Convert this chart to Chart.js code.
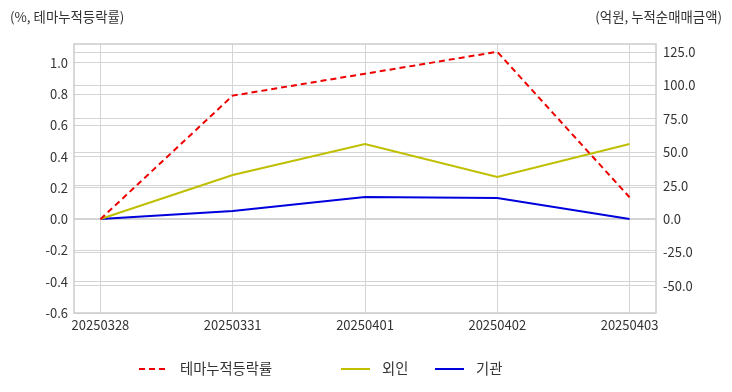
<!DOCTYPE html>
<html>
<head>
<meta charset="utf-8">
<script src="https://cdn.jsdelivr.net/npm/chart.js@4"></script>
<style>
  html, body { margin: 0; padding: 0; background: #fff; }
  #wrap { position: relative; width: 732px; height: 392px; }
  .unit { position: absolute; top: 6px; font: 13.4px "Noto Sans CJK KR", "Noto Sans", sans-serif; color: #333; }
</style>
</head>
<body>
<div id="wrap">
  <canvas id="grafico" width="732" height="392"></canvas>
  <div class="unit" style="left:10px">(%, 테마누적등락률)</div>
  <div class="unit" style="right:10px">(억원, 누적순매매금액)</div>
</div>
<script>
// dados
const categorias = ['20250328', '20250331', '20250401', '20250402', '20250403'];
const temaAcumulado = [0.0, 0.79, 0.93, 1.07, 0.14];   // %
const estrangeiro = [0, 32.9, 56.1, 31.4, 56.1];        // 억원
const institucional = [0, 6.0, 16.5, 15.7, 0];          // 억원
const ticksEsq = [-0.6, -0.4, -0.2, 0.0, 0.2, 0.4, 0.6, 0.8, 1.0];
const ticksDir = [-50, -25, 0, 25, 50, 75, 100, 125];

const fonte = { family: '"Noto Sans CJK KR", "Noto Sans", sans-serif', size: 13 };
const corGrade = '#d4d4d4';

const pontos = arr => arr.map((v, i) => ({ x: i, y: v }));

// moldura em volta da area do grafico
const moldura = {
    id: 'moldura',
    afterDraw(chart) {
        const a = chart.chartArea;
        const c = chart.ctx;
        c.save();
        c.strokeStyle = '#cccccc';
        c.lineWidth = 1.5;
        c.strokeRect(a.left, a.top, a.right - a.left, a.bottom - a.top);
        c.restore();
    }
};

// legenda desenhada na mao (espacamento igual ao original)
const legendaX = [139, 341, 435];
const legenda = {
    id: 'legenda',
    afterDraw(chart) {
        const c = chart.ctx;
        const y = 369;
        c.save();
        chart.data.datasets.forEach((ds, i) => {
            const x = legendaX[i];
            c.beginPath();
            c.strokeStyle = ds.borderColor;
            c.lineWidth = ds.borderWidth;
            c.setLineDash(ds.borderDash || []);
            c.moveTo(x, y);
            c.lineTo(x + 29, y);
            c.stroke();
            c.setLineDash([]);
            c.fillStyle = '#333';
            c.font = '14.3px "Noto Sans CJK KR", "Noto Sans", sans-serif';
            c.textBaseline = 'middle';
            c.fillText(ds.label, x + 41, y);
        });
        c.restore();
    }
};

const ctx = document.getElementById('grafico').getContext('2d');
new Chart(ctx, {
    type: 'line',
    data: {
        datasets: [{
            label: '테마누적등락률',
            data: pontos(temaAcumulado),
            borderColor: '#ee0000',
            backgroundColor: '#ee0000',
            borderWidth: 2,
            borderDash: [6, 4],
            yAxisID: 'y',
        }, {
            label: '외인',
            data: pontos(estrangeiro),
            borderColor: '#bfbf00',
            backgroundColor: '#bfbf00',
            borderWidth: 2,
            yAxisID: 'y1',
        }, {
            label: '기관',
            data: pontos(institucional),
            borderColor: '#0000dd',
            backgroundColor: '#0000dd',
            borderWidth: 2,
            yAxisID: 'y1',
        }]
    },
    options: {
        responsive: false,
        animation: false,
        elements: { point: { radius: 0 }, line: { tension: 0 } },
        layout: { padding: { top: 44, left: 0, right: 0, bottom: 42 } },
        plugins: {
            tooltip: { enabled: false },
            legend: { display: false }
        },
        scales: {
            x: {
                type: 'linear',
                min: -0.2,
                max: 4.2,
                afterBuildTicks: s => { s.ticks = categorias.map((_, i) => ({ value: i })); },
                afterFit: s => { s.height = 37; },
                grid: { color: corGrade, drawTicks: false },
                border: { display: false },
                ticks: {
                    padding: 4,
                    color: '#333',
                    font: fonte,
                    maxRotation: 0,
                    callback: v => categorias[v]
                }
            },
            y: {
                position: 'left',
                min: -0.6,
                max: 1.12,
                afterBuildTicks: s => { s.ticks = ticksEsq.map(v => ({ value: v })); },
                afterFit: s => { s.width = 74; },
                grid: { color: corGrade, drawTicks: false },
                border: { display: false },
                ticks: {
                    padding: 6,
                    color: '#333',
                    font: fonte,
                    callback: v => v.toFixed(1)
                }
            },
            y1: {
                position: 'right',
                min: -70.4,
                max: 131,
                afterBuildTicks: s => { s.ticks = ticksDir.map(v => ({ value: v })); },
                afterFit: s => { s.width = 76; },
                grid: { color: corGrade, drawTicks: false },
                border: { display: false },
                ticks: {
                    padding: 7,
                    color: '#333',
                    font: fonte,
                    callback: v => v.toFixed(1)
                }
            }
        }
    },
    plugins: [moldura, legenda]
});
</script>
</body>
</html>
